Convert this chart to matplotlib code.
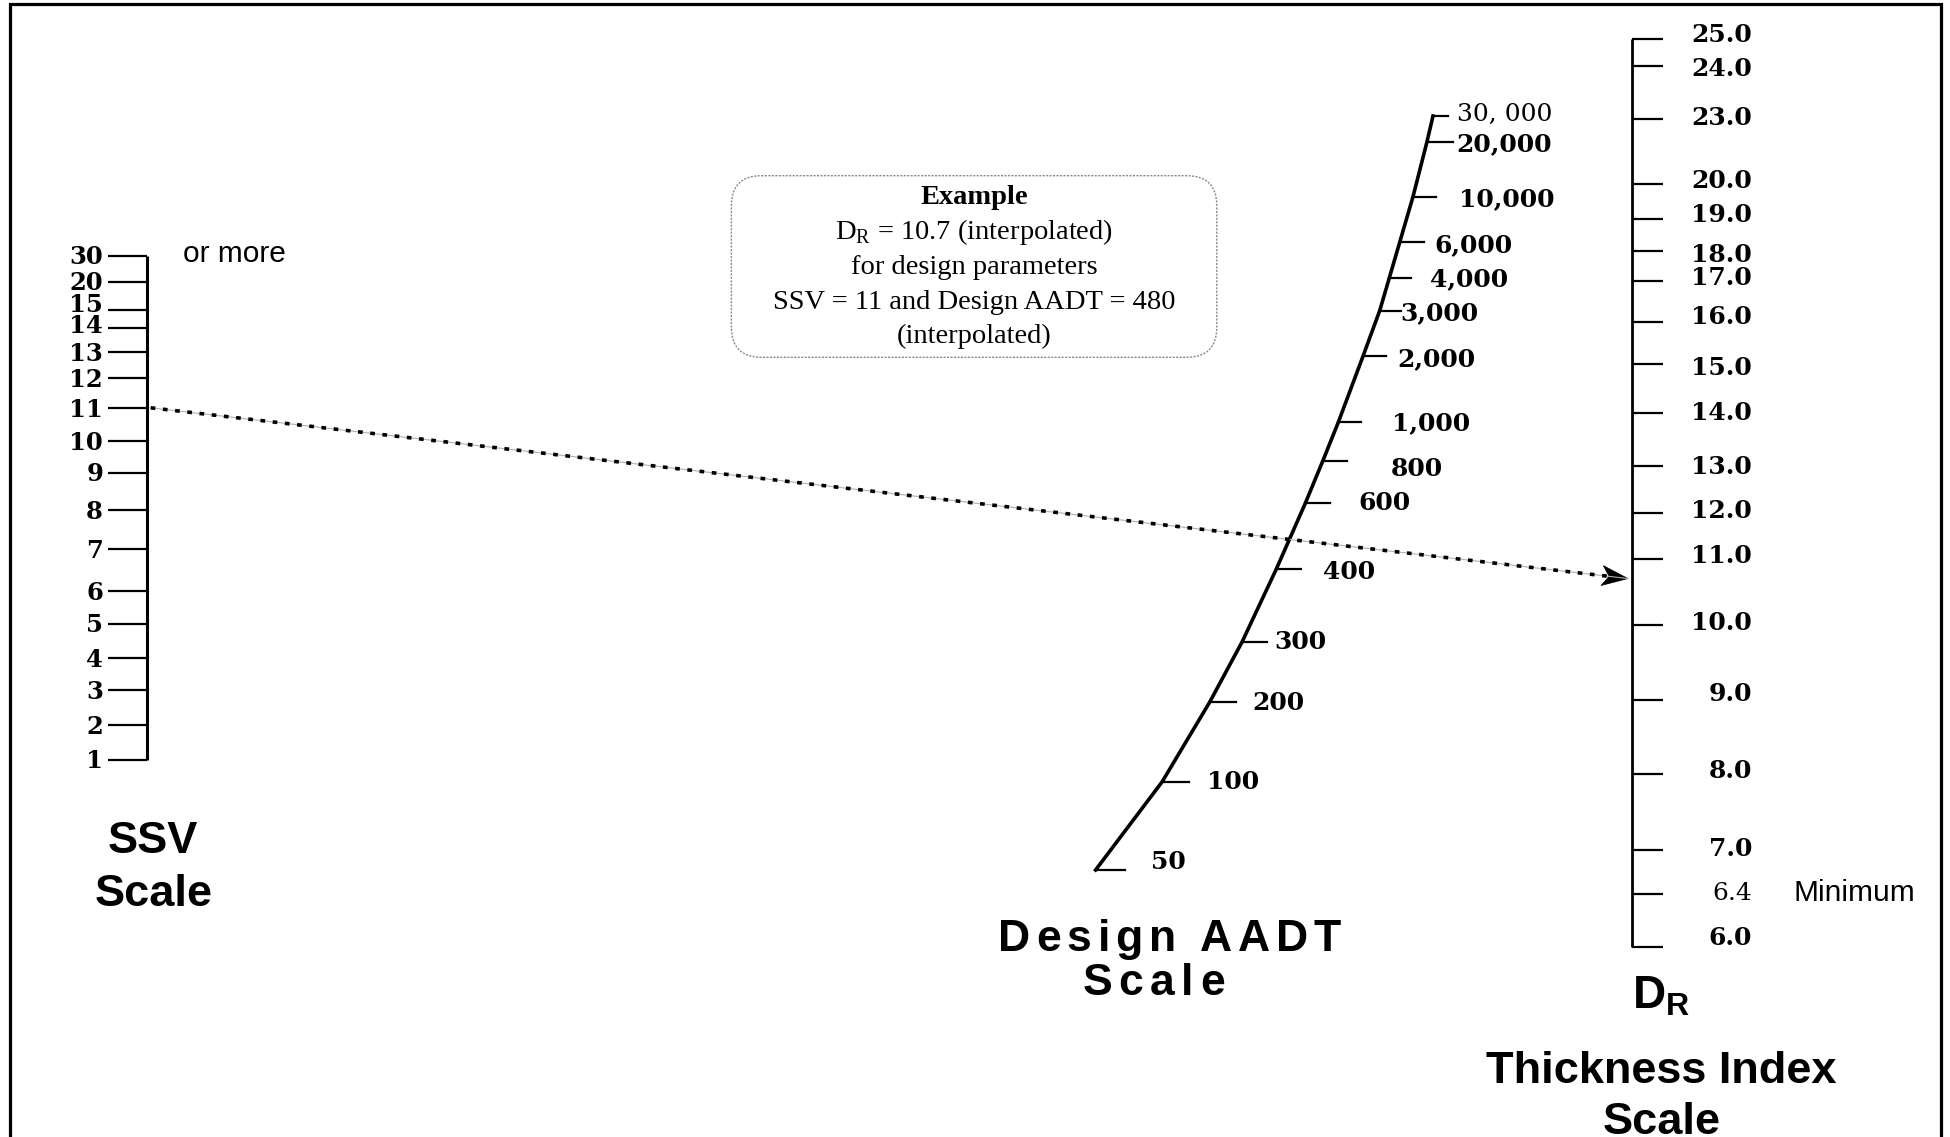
"""Nomograph: SSV scale -> Design AADT scale -> D_R thickness index scale."""

import matplotlib

matplotlib.use("Agg")
import matplotlib.pyplot as plt  # noqa: E402
import numpy as np  # noqa: E402
from matplotlib.font_manager import FontProperties, findfont, get_font  # noqa: E402
from matplotlib.patches import FancyBboxPatch, Polygon  # noqa: E402

# ---- data: scale values and where each sits on the nomograph (pixels) ----
SSV_VALUES = [30, 20, 15, 14, 13, 12, 11, 10, 9, 8, 7, 6, 5, 4, 3, 2, 1]
SSV_POS_Y = [255.5, 281.5, 309.8, 328.2, 352.3, 378.0, 407.8, 441.1, 472.5,
             510.0, 549.0, 591.1, 623.6, 658.1, 689.9, 725.1, 759.5]

AADT_VALUES = [30000, 20000, 10000, 6000, 4000, 3000, 2000, 1000,
               800, 600, 400, 300, 200, 100, 50]
AADT_LABELS = ["30, 000", "20,000", "10,000", "6,000", "4,000", "3,000",
               "2,000", "1,000", "800", "600", "400", "300", "200", "100", "50"]
AADT_POS_X = [1433.0, 1427.0, 1413.0, 1399.7, 1389.2, 1379.7, 1363.2, 1338.3,
              1322.9, 1305.3, 1276.2, 1242.2, 1209.6, 1162.2, 1095.6]
AADT_POS_Y = [116.0, 141.7, 196.7, 242.3, 278.3, 310.7, 355.7, 422.3,
              460.7, 503.3, 569.3, 641.7, 702.3, 781.7, 870.0]

DR_VALUES = [25.0, 24.0, 23.0, 20.0, 19.0, 18.0, 17.0, 16.0, 15.0, 14.0,
             13.0, 12.0, 11.0, 10.0, 9.0, 8.0, 7.0, 6.4, 6.0]
DR_LABELS = ["25.0", "24.0", "23.0", "20.0", "19.0", "18.0", "17.0", "16.0",
             "15.0", "14.0", "13.0", "12.0", "11.0", "10.0", "9.0", "8.0",
             "7.0", "6.4", "6.0"]
DR_POS_Y = [38.5, 65.5, 119.4, 183.7, 218.9, 250.7, 281.3, 321.5, 363.6,
            413.3, 465.8, 512.8, 558.7, 624.9, 699.8, 773.9, 849.5, 893.7, 946.9]

EXAMPLE_SSV = 11
EXAMPLE_AADT = 480
EXAMPLE_DR = 10.7
EXAMPLE_LINES = ["Example",
                 "D$_\\mathregular{R}$ = 10.7 (interpolated)",
                 "for design parameters",
                 "SSV = 11 and Design AADT = 480",
                 "(interpolated)"]

# ---- layout ----
W, H, DPI = 1950, 1137, 100
SSV_X = 146.7
SSV_TICK_X0 = 108.0
DR_X = 1632.0
DR_TICK_X1 = 1663.0
AADT_TICK_LEN = [15, 26, 23, 24, 22, 21, 23, 23, 24, 25, 25, 25, 26, 27, 29]
AADT_LABEL_DX = [24, 29, 46, 35, 41, 21, 34, 54, 68, 53, 47, 32, 43, 45, 55]
AADT_LABEL_DY = [-4, 0, 0, 1, -1, 0, 1, -1, 6, -2, 1, -2, -1, -2, -10]
SSV_LABEL_DY = [0, 0, -7, -4, 0, 0, 0, 0, 0, 0, 0, 0, 0, 0, 0, 0, 0]
DR_LABEL_DY = [-5, 1, -3, -5, -6, 2, -5, -7, 2, -2, -1, -4, -5, -4, -8, -5,
               -2, -3, -11]

SERIF = "DejaVu Serif"
SANS = "Liberation Sans"
TIMES = "Liberation Serif"


def px(pt):
    return pt * DPI / 72.0


def centered_label(ax, x, yc, s, size, ha, **kw):
    """Place text so the cap-height middle sits on yc (y axis points down)."""
    ax.text(x, yc + 0.36 * px(size), s, fontsize=size, ha=ha,
            va="baseline", **kw)


def spaced_text(ax, xc, y, s, size, spacing):
    """Letter-spaced bold sans text centred on xc."""
    prop = FontProperties(family=SANS, weight="bold", size=size)
    font = get_font(findfont(prop))
    font.set_size(size, DPI)
    hf = plt.rcParams["text.hinting_factor"]
    advs = [font.load_char(ord(ch)).horiAdvance / 64.0 / hf for ch in s]
    total = sum(advs) + spacing * (len(s) - 1)
    x = xc - total / 2.0
    for ch, a in zip(s, advs):
        ax.text(x, y, ch, fontproperties=prop, ha="left", va="baseline")
        x += a + spacing


def main() -> None:
    plt.rcParams["mathtext.fontset"] = "custom"
    fig = plt.figure(figsize=(W / DPI, H / DPI), dpi=DPI)
    ax = fig.add_axes([0, 0, 1, 1])
    ax.set_xlim(0, W)
    ax.set_ylim(H, 0)
    ax.axis("off")

    # frame (no bottom edge)
    ax.plot([10, 10, 1941, 1941], [H, 4, 4, H], color="black", lw=2.3,
            solid_joinstyle="miter")

    # ---- SSV scale ----
    ax.plot([SSV_X, SSV_X], [SSV_POS_Y[0], SSV_POS_Y[-1]], color="black",
            lw=2.2, solid_capstyle="butt")
    ax.hlines(SSV_POS_Y, SSV_TICK_X0, SSV_X, color="black", lw=1.6)
    for v, y, dy in zip(SSV_VALUES, SSV_POS_Y, SSV_LABEL_DY):
        centered_label(ax, 103, y + dy, str(v), 17.5, "right",
                       family=SERIF, weight="bold")
    centered_label(ax, 183, 251, "or more", 21.5, "left", family=SANS)
    centered_label(ax, 153, 837, "SSV", 32.5, "center", family=SANS,
                   weight="bold")
    centered_label(ax, 153.6, 890, "Scale", 32.5, "center", family=SANS,
                   weight="bold")

    # ---- Design AADT scale (curved) ----
    ax.plot(AADT_POS_X, AADT_POS_Y, color="black", lw=2.6,
            solid_joinstyle="round")
    for i, (lab, x, y) in enumerate(zip(AADT_LABELS, AADT_POS_X, AADT_POS_Y)):
        ax.plot([x, x + AADT_TICK_LEN[i]], [y, y], color="black", lw=1.6)
        weight = "normal" if i == 0 else "bold"
        centered_label(ax, x + AADT_LABEL_DX[i], y + AADT_LABEL_DY[i], lab,
                       18, "left", family=SERIF, weight=weight)
    spaced_text(ax, 1169.6, 935 + 0.36 * px(32), "Design AADT", 32, 5.8)
    spaced_text(ax, 1153.5, 979 + 0.36 * px(32), "Scale", 32, 6.5)

    # ---- D_R scale ----
    ax.plot([DR_X, DR_X], [DR_POS_Y[0], DR_POS_Y[-1]], color="black",
            lw=2.0, solid_capstyle="butt")
    ax.hlines(DR_POS_Y, DR_X, DR_TICK_X1, color="black", lw=1.6)
    for lab, y, dy in zip(DR_LABELS, DR_POS_Y, DR_LABEL_DY):
        weight = "normal" if lab == "6.4" else "bold"
        centered_label(ax, 1752, y + dy, lab, 18, "right", family=SERIF,
                       weight=weight)
    centered_label(ax, 1793, 890.7, "Minimum", 21.5, "left", family=SANS)
    centered_label(ax, 1661, 992, "D$_\\mathregular{R}$", 33, "center",
                   family=SANS, weight="bold")
    centered_label(ax, 1661.5, 1067, "Thickness Index", 32.5, "center",
                   family=SANS, weight="bold")
    centered_label(ax, 1661.5, 1118, "Scale", 32.5, "center", family=SANS,
                   weight="bold")

    # ---- example box ----
    box = FancyBboxPatch((731.4, 175.7), 485.4, 181.6,
                         boxstyle="round,pad=0,rounding_size=30",
                         fc="white", ec="#8a8a8a", lw=1.0,
                         ls=(0, (1.5, 1.0)))
    ax.add_patch(box)
    for i, line in enumerate(EXAMPLE_LINES):
        centered_label(ax, 974, 194 + 34.8 * i, line, 20.5, "center",
                       family=TIMES, weight="bold" if i == 0 else "normal")

    # ---- example reading: SSV 11 -> D_R 10.7 through AADT 480 ----
    y_start = np.interp(EXAMPLE_SSV, SSV_VALUES[::-1], SSV_POS_Y[::-1])
    y_end = np.interp(EXAMPLE_DR, DR_VALUES[::-1], DR_POS_Y[::-1])
    x_start, x_end = SSV_X + 4, DR_X - 4
    slope = (y_end - y_start) / (x_end - x_start)
    ax.plot([x_start, x_end], [y_start, y_end], color="#b0b0b0", lw=0.8)
    ax.plot([x_start, x_end - 20], [y_start, y_end - 20 * slope],
            color="black", lw=2.6, ls=(0, (1.3, 2.1)), dash_capstyle="butt")

    u = np.array([x_end - x_start, y_end - y_start])
    u /= np.hypot(*u)
    n = np.array([-u[1], u[0]])
    tip = np.array([x_end, y_end])
    back = tip - 26 * u
    head = [tip, back + 10 * n, tip - 19 * u, back - 10 * n]
    ax.add_patch(Polygon(head, closed=True, fc="black", ec="black", lw=0.5))

    fig.savefig("out.png", dpi=DPI, facecolor="white")
    plt.close(fig)


if __name__ == "__main__":
    main()
